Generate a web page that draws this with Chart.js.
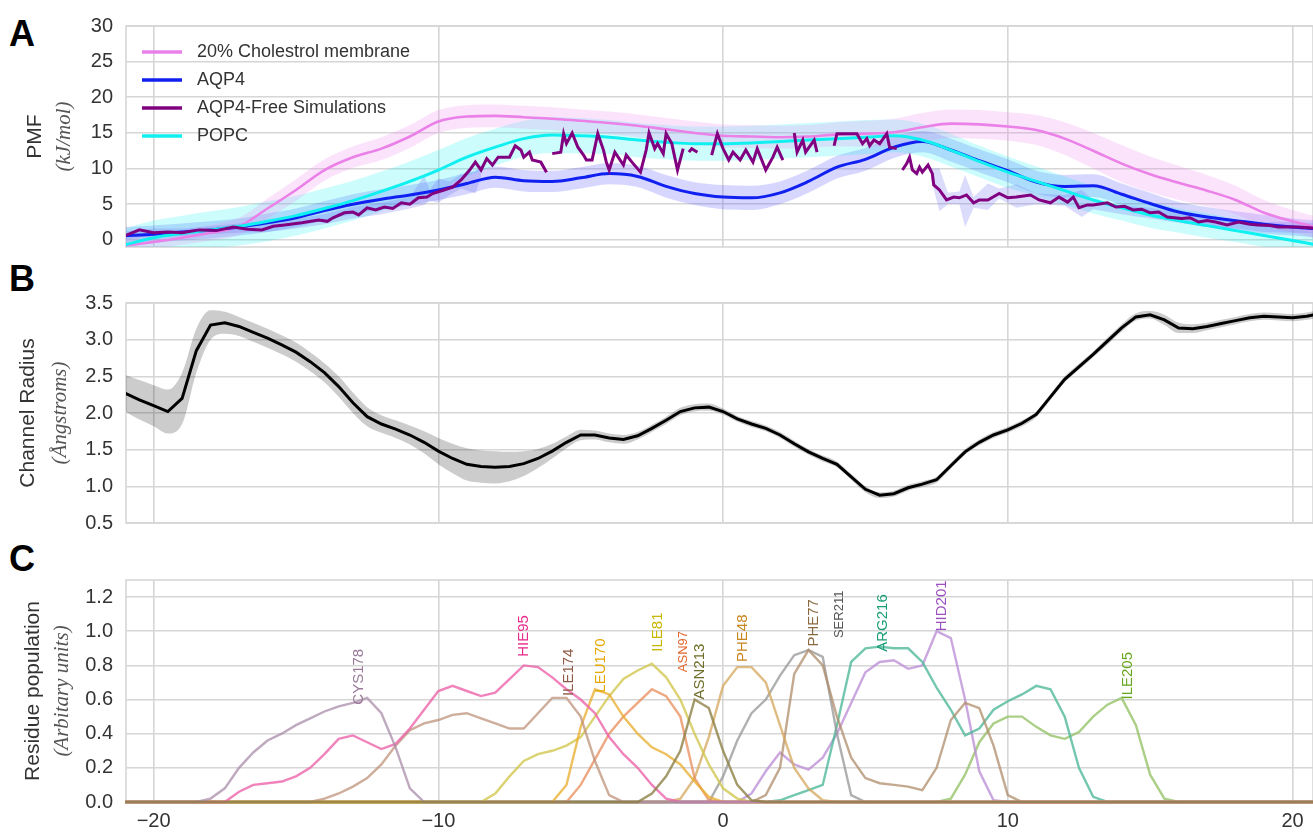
<!DOCTYPE html>
<html>
<head>
<meta charset="utf-8">
<script src="https://cdn.jsdelivr.net/npm/chart.js@4.4.1/dist/chart.umd.min.js"></script>
<style>
  body { margin: 0; background: #fff; width: 1313px; height: 832px; overflow: hidden; position: relative; }
  .panel { position: absolute; left: 0; width: 1313px; }
  .letter { position: absolute; left: 9px; font: bold 36px "Liberation Sans", Arial, sans-serif; line-height: 36px; color: #000; }
</style>
</head>
<body>
<div class="letter" style="top:16px">A</div>
<div class="letter" style="top:261px">B</div>
<div class="letter" style="top:541px">C</div>
<div class="panel" style="top:0;height:250px"><canvas id="pmfChart"></canvas></div>
<div class="panel" style="top:280px;height:262px"><canvas id="radiusChart"></canvas></div>
<div class="panel" style="top:560px;height:272px"><canvas id="residueChart"></canvas></div>
<script>
// ---- shared axis ----
const xRange = [-20.97, 20.72];
const xTicks = [-20, -10, 0, 10, 20];

// ---- panel A: PMF (kJ/mol), sampled every 1 A from -21 to 21 ----
const pmfTicks = [0, 5, 10, 15, 20, 25, 30];
const pmfCholesterol = [-0.8, -0.3, 0.3, 1.0, 1.9, 4.4, 7.0, 9.8, 11.6, 12.8, 14.5, 16.6, 17.3, 17.4, 17.2, 17.0, 16.7, 16.4, 16.0, 15.5, 15.0,
  14.6, 14.5, 14.4, 14.5, 14.8, 14.9, 15.1, 15.8, 16.3, 16.2, 15.9, 15.4, 14.2, 12.5, 10.7, 9.2, 8.0, 6.9, 5.6, 3.8, 2.6, 1.6];
const sdCholesterol = [1.0, 1.0, 1.0, 1.1, 1.2, 1.4, 1.5, 1.5, 1.5, 1.6, 1.6, 1.6, 1.6, 1.6, 1.6, 1.6, 1.6, 1.6, 1.6, 1.6, 1.6,
  1.6, 1.6, 1.6, 1.6, 1.7, 1.8, 1.9, 2.0, 2.0, 2.0, 2.0, 2.1, 2.3, 2.5, 2.6, 2.5, 2.4, 2.2, 2.0, 1.8, 1.6, 1.5];
const pmfAqp4 = [0.6, 0.8, 1.1, 1.4, 1.8, 2.4, 3.1, 4.1, 5.0, 5.7, 6.3, 7.0, 7.9, 8.8, 8.3, 8.2, 8.7, 9.3, 8.9, 7.5, 6.5,
  6.0, 5.9, 6.6, 8.2, 10.2, 11.3, 13.0, 13.8, 12.6, 11.1, 9.7, 8.1, 7.5, 7.6, 6.4, 5.1, 3.9, 3.2, 2.7, 2.2, 1.8, 1.5];
const sdAqp4 = [1.2, 1.2, 1.2, 1.2, 1.2, 1.3, 1.3, 1.3, 1.4, 1.4, 1.4, 1.4, 1.5, 1.5, 1.5, 1.5, 1.5, 1.5, 1.5, 1.6, 1.6,
  1.7, 1.7, 1.6, 1.6, 1.6, 1.6, 1.5, 1.5, 1.6, 1.6, 1.6, 1.6, 1.6, 1.6, 1.5, 1.5, 1.4, 1.4, 1.3, 1.3, 1.2, 1.2];
const pmfPopc = [-0.7, 0.3, 0.9, 1.4, 1.9, 2.6, 3.4, 4.4, 5.5, 6.8, 8.2, 9.8, 11.6, 13.0, 14.2, 14.7, 14.6, 14.4, 14.0, 13.7, 13.5,
  13.5, 13.6, 13.8, 14.0, 14.2, 14.4, 14.6, 14.0, 12.6, 11.0, 9.5, 8.2, 6.9, 5.6, 4.5, 3.5, 2.7, 2.0, 1.3, 0.6, -0.1, -0.8];
const sdPopc = [2.3, 2.4, 2.5, 2.6, 2.7, 2.8, 2.8, 2.8, 2.8, 2.8, 2.8, 2.8, 2.7, 2.6, 2.5, 2.5, 2.5, 2.4, 2.4, 2.4, 2.4,
  2.4, 2.4, 2.4, 2.4, 2.4, 2.4, 2.3, 2.3, 2.3, 2.2, 2.2, 2.1, 2.0, 1.9, 1.8, 1.8, 1.7, 1.7, 1.6, 1.6, 1.6, 1.6];
// AQP4-free simulations: [x, PMF], null marks a break in the trace
const pmfFree = [[-21, 0.6], [-20.5, 1.4], [-20, 1.0], [-19.5, 1.1], [-19, 1.0], [-18.4, 1.4], [-17.8, 1.3], [-17.2, 1.8],
  [-16.7, 1.5], [-16.2, 1.4], [-15.8, 1.9], [-15.4, 2.1], [-14.8, 2.4], [-14.2, 2.8], [-13.9, 2.6], [-13.7, 3.1], [-13.3, 3.8],
  [-13, 3.9], [-12.8, 3.5], [-12.5, 4.5], [-12.2, 4.2], [-11.9, 4.6], [-11.6, 4.4], [-11.3, 5.2], [-11, 5.0], [-10.7, 5.9],
  [-10.4, 6.0], [-10.2, 6.5], [-9.8, 7.0], [-9.5, 7.4], [-9.2, 8.4], [-8.9, 9.8], [-8.7, 10.9], [-8.5, 9.8], [-8.3, 11.4],
  [-8.1, 10.5], [-7.9, 11.6], [-7.5, 11.6], [-7.3, 13.2], [-7.1, 12.6], [-7.0, 11.6], [-6.8, 12.3], [-6.7, 11.2], [-6.4, 10.9],
  [-6.2, 9.5], [-6.1, null], [-6.0, 12.1], [-5.7, 12.3], [-5.6, 14.9], [-5.5, 13.5], [-5.3, 15.0], [-5.1, 13.0], [-4.9, 11.9],
  [-4.8, 11.2], [-4.6, 11.2], [-4.4, 14.9], [-4.2, 12.6], [-4.1, 10.9], [-4.0, 9.8], [-3.8, 12.3], [-3.5, 10.5], [-3.4, 11.9],
  [-3.2, 10.9], [-2.9, 9.5], [-2.7, 12.6], [-2.6, 15.0], [-2.4, 12.8], [-2.3, 13.5], [-2.1, 12.1], [-2.0, 14.9], [-1.8, 13.5],
  [-1.6, 9.8], [-1.4, 12.8], [-1.3, null], [-1.2, 12.3], [-1.1, 12.8], [-0.9, 12.3], [-0.6, null], [-0.4, 11.9], [-0.2, 14.9],
  [0, 12.8], [0.2, 11.2], [0.35, 12.3], [0.6, 11.2], [0.8, 12.6], [1.05, 10.9], [1.2, 12.8], [1.5, 9.8], [1.75, 11.6], [1.9, 13.0],
  [2.1, 11.2], [2.3, null], [2.5, 15.0], [2.6, 12.3], [2.8, 14.0], [2.9, 12.3], [3.2, 14.0], [3.3, 12.3], [3.6, null], [3.9, 13.2],
  [4.0, 14.9], [4.7, 14.9], [4.9, 13.5], [5.05, 14.2], [5.15, 13.2], [5.3, 14.0], [5.5, 13.5], [5.75, 14.9], [5.85, 13.0],
  [6.1, 12.8], [6.2, null], [6.3, 9.8], [6.45, 10.7], [6.55, 11.6], [6.65, 9.8], [6.8, 9.3], [6.9, 10.2], [7.0, 9.5], [7.2, 10.5],
  [7.35, 9.3], [7.4, 7.7], [7.6, 7.0], [7.85, 5.6], [8.1, 6.0], [8.3, 5.9], [8.55, 6.3], [8.8, 5.2], [9.0, 5.6], [9.3, 5.6],
  [9.7, 6.5], [10.0, 5.9], [10.3, 6.0], [10.8, 6.3], [11.1, 5.6], [11.5, 5.2], [11.8, 6.0], [12.1, 5.3], [12.3, 6.0], [12.5, 4.5],
  [12.8, 4.9], [13.0, 4.9], [13.5, 5.2], [13.8, 4.6], [14.1, 4.7], [14.4, 4.2], [14.7, 4.3], [15.0, 3.8], [15.3, 3.9], [15.6, 3.2],
  [16.1, 3.0], [16.4, 3.1], [16.7, 2.5], [17.0, 2.7], [17.3, 2.5], [17.7, 2.1], [18.1, 2.5], [18.5, 2.2], [18.8, 2.1], [19.2, 2.0],
  [19.5, 1.8], [20.2, 1.8], [21, 1.6]];
// spread of the AQP4-free trace: [x, low, high]
const freeBand = [[-21, 0.1, 1.2], [-20, 0.5, 1.6], [-19, 0.5, 1.6], [-18, 0.8, 1.9], [-17, 1.0, 2.3], [-16, 1.1, 2.5],
  [-15, 1.6, 3.0], [-14, 2.2, 3.6], [-13, 3.0, 4.6], [-12, 3.6, 5.2], [-11, 4.4, 6.0], [-10.5, 4.9, 9.0], [-10.3, 5.5, 7.0],
  [-10, 5.2, 8.6], [-9.6, 6.3, 8.2], [-9.2, 7.2, 9.2], [-8.7, 6.5, 9.6], [-8.5, 8.8, 10.6], [-8.4, null, null],
  [7.3, 8.6, 10.0], [7.6, 4.0, 10.0], [7.9, 5.0, 6.6], [8.3, 5.0, 6.8], [8.5, 1.8, 9.1], [8.8, 4.5, 6.0], [9.3, 4.2, 7.9],
  [9.7, 5.8, 7.2], [10.3, 4.5, 7.8], [11, 5.0, 6.5], [12, 4.8, 6.3], [12.6, 3.2, 7.0], [13, 4.3, 5.6], [14, 3.6, 4.8],
  [15, 3.0, 4.5], [16, 2.4, 3.7], [17, 1.8, 3.2], [18, 1.6, 2.9], [19, 1.1, 2.5], [20, 1.0, 2.5], [21, 0.9, 2.3]];

// ---- panel B: channel radius (A), sampled every 0.5 A from -21 to 21 ----
const radiusTicks = [0.5, 1.0, 1.5, 2.0, 2.5, 3.0, 3.5];
const radius = [2.27, 2.18, 2.1, 2.02, 2.2, 2.85, 3.2, 3.23, 3.18, 3.1, 3.02, 2.93, 2.83, 2.7, 2.55, 2.36, 2.14, 1.95, 1.85, 1.78,
  1.7, 1.6, 1.48, 1.38, 1.3, 1.27, 1.26, 1.27, 1.31, 1.38, 1.48, 1.6, 1.7, 1.7, 1.66, 1.64, 1.69, 1.79, 1.9, 2.02,
  2.07, 2.08, 2.02, 1.92, 1.85, 1.79, 1.7, 1.58, 1.47, 1.38, 1.3, 1.13, 0.96, 0.88, 0.9, 0.98, 1.03, 1.09, 1.28, 1.47,
  1.6, 1.7, 1.77, 1.86, 1.98, 2.22, 2.46, 2.63, 2.8, 2.98, 3.16, 3.31, 3.34, 3.27, 3.16, 3.15, 3.18, 3.22, 3.26, 3.3,
  3.32, 3.31, 3.3, 3.32, 3.36];
const radiusSd = [0.25, 0.27, 0.28, 0.3, 0.35, 0.3, 0.2, 0.15, 0.13, 0.13, 0.13, 0.13, 0.13, 0.13, 0.13, 0.14, 0.14, 0.13, 0.12, 0.12,
  0.13, 0.15, 0.18, 0.2, 0.22, 0.22, 0.22, 0.2, 0.17, 0.13, 0.1, 0.08, 0.07, 0.06, 0.06, 0.06, 0.05, 0.05, 0.05, 0.05,
  0.05, 0.05, 0.04, 0.04, 0.04, 0.04, 0.04, 0.04, 0.04, 0.04, 0.04, 0.04, 0.04, 0.04, 0.04, 0.04, 0.04, 0.04, 0.04, 0.04,
  0.04, 0.04, 0.04, 0.04, 0.04, 0.04, 0.04, 0.04, 0.04, 0.05, 0.05, 0.05, 0.05, 0.07, 0.07, 0.06, 0.05, 0.05, 0.05, 0.05,
  0.05, 0.05, 0.05, 0.05, 0.05];

// ---- panel C: residue populations, every 0.5 A starting at `start` ----
const populationTicks = [0.0, 0.2, 0.4, 0.6, 0.8, 1.0, 1.2];
const cys178 = [0, 0.02, 0.08, 0.2, 0.29, 0.36, 0.4, 0.45, 0.49, 0.53, 0.56, 0.58, 0.61, 0.52, 0.32, 0.08, 0];
const hie95 = [0, 0.06, 0.1, 0.11, 0.12, 0.15, 0.2, 0.28, 0.37, 0.39, 0.35, 0.31, 0.34, 0.43, 0.54, 0.65, 0.68, 0.65, 0.62, 0.64,
  0.72, 0.8, 0.79, 0.73, 0.66, 0.6, 0.52, 0.38, 0.28, 0.2, 0.1, 0.02, 0];
const ile174 = [0, 0.02, 0.05, 0.09, 0.14, 0.22, 0.33, 0.42, 0.46, 0.48, 0.51, 0.52, 0.49, 0.46, 0.43, 0.43, 0.52, 0.61, 0.61, 0.5,
  0.24, 0.04, 0];
const leu170 = [0, 0.1, 0.44, 0.66, 0.63, 0.5, 0.4, 0.32, 0.28, 0.22, 0.12, 0.03, 0];
const ile81 = [0, 0.05, 0.15, 0.24, 0.28, 0.3, 0.33, 0.38, 0.5, 0.62, 0.72, 0.77, 0.81, 0.73, 0.6, 0.4, 0.22, 0.08, 0.02, 0];
const asn97 = [0, 0.1, 0.25, 0.4, 0.5, 0.58, 0.66, 0.62, 0.5, 0.14, 0.01, 0];
const asn213 = [0, 0.05, 0.15, 0.3, 0.6, 0.55, 0.3, 0.1, 0.01, 0];
const phe48 = [0, 0.02, 0.14, 0.38, 0.68, 0.79, 0.79, 0.7, 0.45, 0.2, 0.08, 0.01, 0];
const ser211 = [0, 0.15, 0.36, 0.52, 0.6, 0.74, 0.86, 0.89, 0.85, 0.4, 0.04, 0];
const phe77 = [0, 0.04, 0.2, 0.75, 0.89, 0.8, 0.5, 0.26, 0.14, 0.11, 0.1, 0.09, 0.07, 0.2, 0.48, 0.58, 0.55, 0.33, 0.04, 0];
const arg216 = [0, 0.01, 0.04, 0.07, 0.1, 0.45, 0.82, 0.9, 0.91, 0.9, 0.9, 0.82, 0.67, 0.54, 0.39, 0.43, 0.54, 0.59, 0.63, 0.68,
  0.66, 0.5, 0.2, 0.03, 0];
const hid201 = [0, 0.05, 0.18, 0.29, 0.22, 0.19, 0.26, 0.4, 0.58, 0.76, 0.82, 0.83, 0.78, 0.8, 1.0, 0.96, 0.6, 0.18, 0.01, 0];
const ile205 = [0, 0.02, 0.16, 0.35, 0.46, 0.5, 0.5, 0.44, 0.39, 0.37, 0.41, 0.5, 0.57, 0.61, 0.45, 0.16, 0.02, 0];

// name, first x, values, label colour, line colour, label anchor [x, y], label size
const residues = [
  ["CYS178", -18.5, cys178, "#9a7a9a", "rgba(170,140,170,0.75)", [-12.8, 0.57], 15],
  ["HIE95", -17.5, hie95, "#e7298a", "rgba(236,100,170,0.8)", [-7.0, 0.85], 15],
  ["ILE174", -14.5, ile174, "#8c5a46", "rgba(190,145,120,0.75)", [-5.4, 0.62], 15],
  ["LEU170", -6.0, leu170, "#e6a800", "rgba(232,172,40,0.75)", [-4.3, 0.64], 15],
  ["ILE81", -8.5, ile81, "#c9b600", "rgba(210,200,80,0.8)", [-2.3, 0.88], 15],
  ["ASN97", -5.5, asn97, "#e2652c", "rgba(232,140,90,0.75)", [-1.4, 0.76], 13],
  ["ASN213", -3.0, asn213, "#6e6e2a", "rgba(140,128,70,0.8)", [-0.8, 0.6], 15],
  ["PHE48", -2.0, phe48, "#c8861e", "rgba(212,165,90,0.75)", [0.7, 0.82], 15],
  ["PHE77", 1.0, phe77, "#8a6a40", "rgba(175,140,105,0.75)", [3.2, 0.91], 15],
  ["SER211", -0.5, ser211, "#555555", "rgba(150,150,150,0.75)", [4.1, 0.96], 13],
  ["ARG216", 1.5, arg216, "#1b9e77", "rgba(80,185,155,0.8)", [5.6, 0.88], 15],
  ["HID201", 0.5, hid201, "#9b50c0", "rgba(190,145,215,0.8)", [7.7, 1.0], 15],
  ["ILE205", 7.5, ile205, "#66a61e", "rgba(150,195,105,0.8)", [14.2, 0.6], 15],
];

// ---- helpers ----
const onGrid = (x0, step, ys) => ys.map((y, i) => ({ x: x0 + i * step, y }));
const shift = (x0, step, ys, sd, sign) => ys.map((y, i) => ({ x: x0 + i * step, y: y + sign * sd[i] }));
const fmtX = v => (v < 0 ? "\u2212" + Math.abs(v) : String(v));
const grid = { color: "#d6d6d6", lineWidth: 1.6, drawTicks: false };
const tickFont = { family: "Liberation Sans", size: 20 };

function band(x0, step, ys, sd, color) {
  return [
    { data: shift(x0, step, ys, sd, 1), borderWidth: 0, backgroundColor: color, fill: "+1", order: 20, cubicInterpolationMode: "monotone" },
    { data: shift(x0, step, ys, sd, -1), borderWidth: 0, backgroundColor: color, fill: false, order: 20, cubicInterpolationMode: "monotone" },
  ];
}

// plot frame + rotated two-line y titles
const framePlugin = {
  id: "frame",
  beforeDatasetsDraw(chart) {
    const { ctx, chartArea: a } = chart;
    ctx.save();
    ctx.strokeStyle = "#d6d6d6";
    ctx.lineWidth = 1.6;
    ctx.strokeRect(a.left, a.top, a.right - a.left, a.bottom - a.top);
    ctx.restore();
  },
  afterDraw(chart, args, opts) {
    const { ctx, chartArea: a } = chart;
    const cy = (a.top + a.bottom) / 2;
    ctx.save();
    (opts.titles || []).forEach(t => {
      ctx.save();
      ctx.translate(t.x, cy);
      ctx.rotate(-Math.PI / 2);
      ctx.font = t.font;
      ctx.fillStyle = t.color;
      ctx.textAlign = "center";
      ctx.textBaseline = "middle";
      ctx.fillText(t.text, 0, 0);
      ctx.restore();
    });
    ctx.restore();
  },
};

function baseOptions(yMin, yMax, yTicks, decimals, showX, titles, padding) {
  return {
    responsive: true,
    maintainAspectRatio: false,
    animation: false,
    events: [],
    layout: { padding },
    elements: { point: { radius: 0 }, line: { tension: 0 } },
    plugins: { legend: { display: false }, tooltip: { enabled: false }, frame: { titles } },
    scales: {
      x: {
        type: "linear", min: xRange[0], max: xRange[1],
        grid, border: { display: false },
        afterBuildTicks: s => { s.ticks = xTicks.map(v => ({ value: v })); },
        ticks: { display: showX, color: "#333", font: tickFont, padding: 7, maxRotation: 0, callback: fmtX },
        afterFit: s => { s.height = showX ? 30 : 0; s.paddingLeft = 0; s.paddingRight = 0; },
      },
      y: {
        min: yMin, max: yMax,
        grid, border: { display: false },
        afterBuildTicks: s => { s.ticks = yTicks.map(v => ({ value: v })); },
        ticks: { color: "#333", font: tickFont, padding: 13, callback: v => v.toFixed(decimals) },
        afterFit: s => { s.width = 126; s.paddingTop = 0; s.paddingBottom = 0; },
      },
    },
  };
}

// ---- panel A ----
const pmfLines = [
  { label: "20% Cholestrol membrane", data: onGrid(-21, 1, pmfCholesterol), borderColor: "#ea80e8", borderWidth: 2.6, order: 3, cubicInterpolationMode: "monotone" },
  { label: "AQP4", data: onGrid(-21, 1, pmfAqp4), borderColor: "#1020f0", borderWidth: 3, order: 2, cubicInterpolationMode: "monotone" },
  { label: "AQP4-Free Simulations", data: pmfFree.map(([x, y]) => ({ x, y })), borderColor: "#800080", borderWidth: 3, order: 0, spanGaps: false },
  { label: "POPC", data: onGrid(-21, 1, pmfPopc), borderColor: "#10f0f0", borderWidth: 3, order: 1, cubicInterpolationMode: "monotone" },
];
const pmfLegend = {
  id: "pmfLegend",
  afterDatasetsDraw(chart) {
    const ctx = chart.ctx;
    ctx.save();
    ctx.font = '18px "Liberation Sans"';
    ctx.textBaseline = "middle";
    pmfLines.forEach((ds, i) => {
      const y = 52 + i * 28;
      ctx.strokeStyle = ds.borderColor;
      ctx.lineWidth = 3.5;
      ctx.beginPath();
      ctx.moveTo(142, y);
      ctx.lineTo(182, y);
      ctx.stroke();
      ctx.fillStyle = "#333";
      ctx.fillText(ds.label, 197, y);
    });
    ctx.restore();
  },
};

new Chart(document.getElementById("pmfChart"), {
  type: "line",
  data: {
    datasets: [
      ...pmfLines,
      ...band(-21, 1, pmfCholesterol, sdCholesterol, "rgba(238,130,238,0.22)"),
      ...band(-21, 1, pmfPopc, sdPopc, "rgba(0,240,240,0.2)"),
      ...band(-21, 1, pmfAqp4, sdAqp4, "rgba(70,70,250,0.22)"),
      { data: freeBand.map(([x, lo, hi]) => ({ x, y: hi })), borderWidth: 0, backgroundColor: "rgba(110,110,245,0.25)", fill: "+1", order: 19, spanGaps: false },
      { data: freeBand.map(([x, lo]) => ({ x, y: lo })), borderWidth: 0, backgroundColor: "rgba(110,110,245,0.25)", fill: false, order: 19, spanGaps: false },
    ],
  },
  options: baseOptions(-1, 30, pmfTicks, 0, false, [
    { text: "PMF", x: 35, font: '21px "Liberation Sans"', color: "#333" },
    { text: "(kJ/mol)", x: 64, font: 'italic 21px "Liberation Serif"', color: "#555" },
  ], { top: 26, bottom: 3, left: 0, right: 0 }),
  plugins: [framePlugin, pmfLegend],
});

// ---- panel B ----
new Chart(document.getElementById("radiusChart"), {
  type: "line",
  data: {
    datasets: [
      { data: onGrid(-21, 0.5, radius), borderColor: "#000", borderWidth: 3, order: 0 },
      ...band(-21, 0.5, radius, radiusSd, "rgba(0,0,0,0.2)"),
    ],
  },
  options: baseOptions(0.5, 3.5, radiusTicks, 1, false, [
    { text: "Channel Radius", x: 28, font: '21px "Liberation Sans"', color: "#333" },
    { text: "(Ångstroms)", x: 60, font: 'italic 21px "Liberation Serif"', color: "#555" },
  ], { top: 23, bottom: 19, left: 0, right: 0 }),
  plugins: [framePlugin],
});

// ---- panel C ----
const residueLabels = {
  id: "residueLabels",
  afterDatasetsDraw(chart) {
    const { ctx, scales } = chart;
    ctx.save();
    residues.forEach(([name, , , labelColor, , [lx, ly], size]) => {
      ctx.save();
      ctx.translate(scales.x.getPixelForValue(lx), scales.y.getPixelForValue(ly));
      ctx.rotate(-Math.PI / 2);
      ctx.font = size + 'px "Liberation Sans"';
      ctx.fillStyle = labelColor;
      ctx.textAlign = "left";
      ctx.textBaseline = "middle";
      ctx.fillText(name, 0, 0);
      ctx.restore();
    });
    ctx.restore();
  },
};

new Chart(document.getElementById("residueChart"), {
  type: "line",
  data: {
    datasets: residues.map(([name, start, values, , lineColor]) => ({
      label: name,
      data: [{ x: -21, y: 0 }, ...onGrid(start, 0.5, values), { x: 21, y: 0 }],
      borderColor: lineColor,
      borderWidth: 2.4,
      clip: 4,
      order: name === "ASN213" ? 0 : 1,
    })),
  },
  options: baseOptions(0, 1.3, populationTicks, 1, true, [
    { text: "Residue population", x: 33, font: '21px "Liberation Sans"', color: "#333" },
    { text: "(Arbitary units)", x: 62, font: 'italic 21px "Liberation Serif"', color: "#555" },
  ], { top: 20, bottom: 0, left: 0, right: 0 }),
  plugins: [framePlugin, residueLabels],
});
</script>
</body>
</html>
